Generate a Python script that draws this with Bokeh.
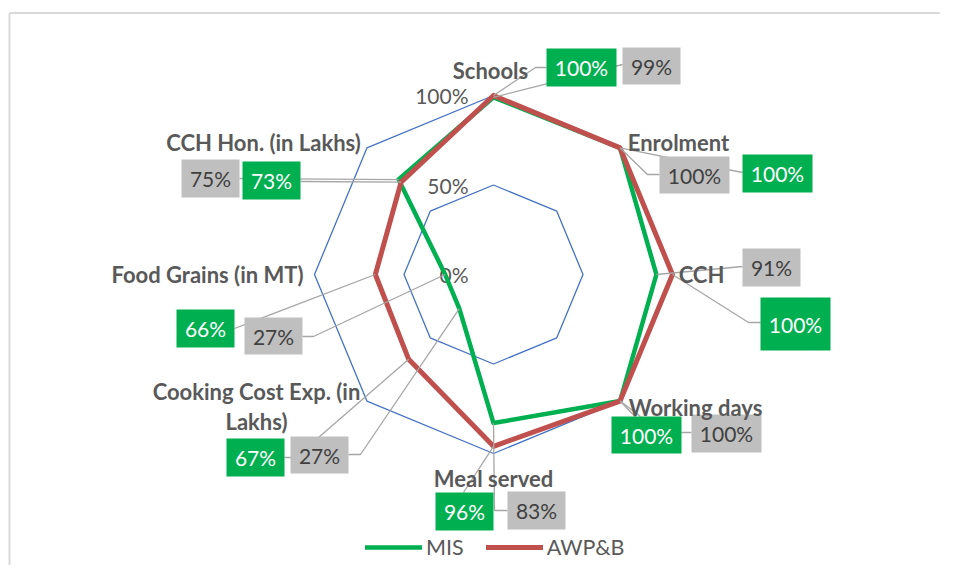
import numpy as np
from bokeh.plotting import figure
from bokeh.models import Range1d, ColumnDataSource, Legend, LegendItem
from bokeh.core.properties import value
from bokeh.embed import file_html
from bokeh.resources import INLINE

# ---------------- data ----------------
categories = ["Schools", "Enrolment", "CCH", "Working days", "Meal served",
              "Cooking Cost Exp. (in\nLakhs)", "Food Grains (in MT)", "CCH Hon. (in Lakhs)"]
mis = [99, 100, 91, 100, 83, 27, 27, 75]
awpb = [100, 100, 100, 100, 96, 67, 66, 73]
ring_ticks = [0, 50, 100]
ring_labels = ["0%", "50%", "100%"]

# ---------------- layout (screen pixel positions in the picture) ----------------
CX, CY = 493, 274          # centre of radar in screenshot pixels
R = 179                    # pixels for 100 %
W, H = 940, 565

def sx(X):
    return X - CX

def sy(Y):
    return CY - Y

cat_pos = [(490, 70), (678, 142), (701, 274), (695, 407), (493, 478),
           (256, 406), (207, 274), (263, 142)]

# label boxes: centre, width, height, leader waypoints (screen coords)
mis_boxes = [
    ((651, 65.5), 58, 37, [(622, 64)]),
    ((694, 174.5), 70, 37, [(647, 174), (659, 174)]),
    ((771, 267), 58, 38, [(742, 266)]),
    ((726, 433), 70, 38, [(650, 432), (691, 432)]),
    ((536, 510), 58, 38, [(494, 510), (507, 510)]),
    ((319, 454.5), 58, 37, [(360, 454), (348, 454)]),
    ((273, 335.5), 58, 37, [(313, 336), (302, 336)]),
    ((210, 178), 58, 38, [(239, 178)]),
]
awp_boxes = [
    ((581, 67), 70, 38, [(535, 67), (546, 67)]),
    ((777, 173), 70, 38, [(742, 172)]),
    ((795, 323.5), 70, 53, [(748, 322), (760, 322)]),
    ((646, 434.5), 70, 37, [(640, 416)]),
    ((464, 511), 58, 38, [(463, 492)]),
    ((255, 457), 58, 38, [(295, 457), (284, 457)]),
    ((205, 328), 58, 38, [(234, 328)]),
    ((271, 180), 58, 38, [(300, 181)]),
]

GREEN = "#00B050"
RED = "#C0504D"
GRID = "#4472C4"
TXT = "#595959"
FONT = "Lato"

n = len(categories)
theta = np.arange(n) * 2 * np.pi / n


def polar(vals):
    v = np.asarray(vals, dtype=float) / 100.0 * R
    return list(v * np.sin(theta)), list(v * np.cos(theta))


p = figure(width=W, height=H, output_backend="svg", toolbar_location=None,
           x_range=Range1d(-CX, W - CX), y_range=Range1d(CY - H, CY),
           x_axis_type=None, y_axis_type=None, min_border=0)
p.grid.visible = False
p.outline_line_color = None
p.background_fill_color = "white"
p.border_fill_color = "white"

# chart frame (left + top edges visible)
p.segment(x0=[sx(9), sx(9)], y0=[sy(12.5), sy(12.5)], x1=[sx(9), sx(990)], y1=[sy(600), sy(12.5)],
          line_color="#D9D9D9", line_width=2)

# grid rings
for t in ring_ticks:
    if t == 0:
        continue
    gx, gy = polar([t] * n)
    p.line(gx + gx[:1], gy + gy[:1], line_color=GRID, line_width=1.3)

# ring labels
p.text(x=[sx(468)] * len(ring_ticks), y=[t / 100.0 * R for t in ring_ticks], text=ring_labels,
       text_align="right", text_baseline="middle", text_font=value(FONT),
       text_font_size="21px", text_color=TXT)

# series
mx, my = polar(mis)
ax, ay = polar(awpb)
g = p.line(mx + mx[:1], my + my[:1], line_color=GREEN, line_width=4.5, line_join="round", line_cap="round")
r = p.line(ax + ax[:1], ay + ay[:1], line_color=RED, line_width=5, line_join="round", line_cap="round")

# leader lines
for (px_, py_), boxes in (((mx, my), mis_boxes), ((ax, ay), awp_boxes)):
    xs, ys = [], []
    for i, (_, _, _, way) in enumerate(boxes):
        xs.append([px_[i]] + [sx(a) for a, b in way])
        ys.append([py_[i]] + [sy(b) for a, b in way])
    p.multi_line(xs, ys, line_color="#A6A6A6", line_width=1.3)

# label boxes + text
for vals, boxes, fill, tcol in ((mis, mis_boxes, "#BFBFBF", "#404040"),
                                (awpb, awp_boxes, GREEN, "white")):
    src = ColumnDataSource(dict(
        x=[sx(b[0][0]) for b in boxes], y=[sy(b[0][1]) for b in boxes],
        w=[b[1] for b in boxes], h=[b[2] for b in boxes],
        t=[f"{v}%" for v in vals]))
    p.rect(x="x", y="y", width="w", height="h", source=src, fill_color=fill, line_color=None)
    p.text(x="x", y="y", text="t", source=src, text_align="center", text_baseline="middle",
           text_font=value(FONT), text_font_size="21px", text_color=tcol)

# category labels
p.text(x=[sx(a) for a, b in cat_pos], y=[sy(b) for a, b in cat_pos], text=categories,
       text_align="center", text_baseline="middle", text_font=value(FONT),
       text_font_style="bold", text_font_size="22px", text_color=TXT, text_line_height=1.1)

legend = Legend(items=[LegendItem(label="MIS", renderers=[g]), LegendItem(label="AWP&B", renderers=[r])],
                orientation="horizontal", location=(365, 565 - 550 - 10), glyph_width=57, glyph_height=20,
                label_standoff=4, spacing=22, padding=0, margin=0,
                border_line_alpha=0, background_fill_alpha=0,
                label_text_font=FONT, label_text_font_size="21.5px", label_text_color=TXT)
p.add_layout(legend)

open("out.html", "w").write(file_html(p, INLINE))
